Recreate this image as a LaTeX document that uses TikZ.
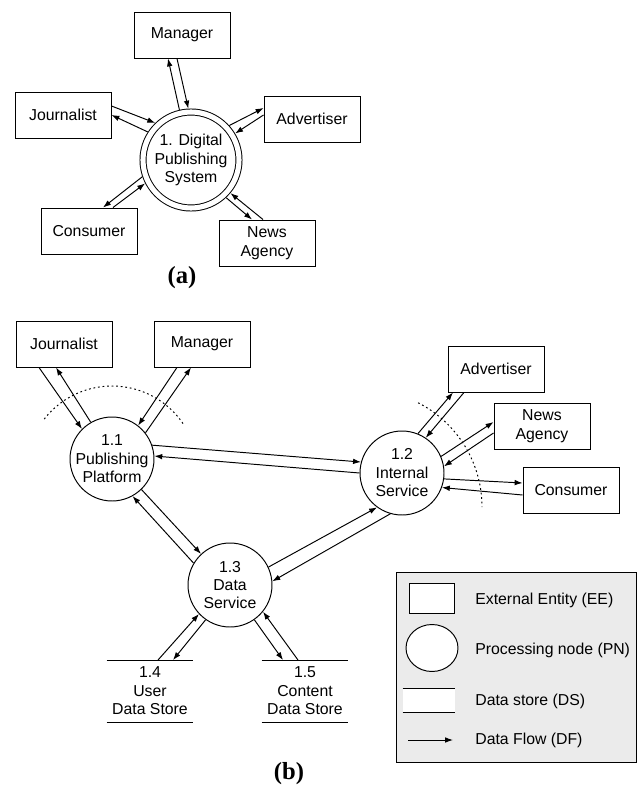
\documentclass[tikz,border=0pt]{standalone}
\usepackage{fontspec}
\setmainfont{Liberation Sans}
\newfontfamily\capfont{Liberation Serif}
\usetikzlibrary{arrows.meta,shapes.geometric}

\tikzset{
  ent/.style={draw, minimum width=1.92cm, minimum height=0.92cm, inner sep=1pt, align=center},
  proc/.style={circle, draw, minimum size=1.68cm, inner sep=-3pt, align=center},
  sysproc/.style={circle, draw, double, double distance=2.9pt, minimum size=1.92cm,
    inner sep=0pt, outer sep=2pt, align=center},
  store/.style={minimum width=1.72cm, minimum height=1.22cm, inner sep=1pt, align=center,
    append after command={(\tikzlastnode.north west) edge (\tikzlastnode.north east)
      (\tikzlastnode.south west) edge (\tikzlastnode.south east)}},
  flow/.style={-{Latex[length=4.5pt,width=3.2pt]}},
  bound/.style={dash pattern=on 1pt off 1.6pt},
  sublabel/.style={font=\capfont\bfseries\fontsize{14}{16}\selectfont},
}

\begin{document}
\begin{tikzpicture}[x=0.02cm, y=0.02cm, line width=0.55pt,
    every node/.append style={font=\fontsize{9}{10.5}\selectfont}]
    \useasboundingbox (0,0) rectangle (638,-787);

    % (a) context diagram
    \node[ent] (mgrA) at (182,-35) {Manager};
    \node[ent] (jourA) at (63,-115) {Journalist};
    \node[ent] (advA) at (312,-119) {Advertiser};
    \node[ent] (consA) at (89,-231) {Consumer};
    \node[ent] (newsA) at (267,-243) {News\\Agency};
    \node[sysproc] (dps) at (191,-160) {1. Digital\\Publishing\\System};

    \draw[flow] ([shift={(0,9)}]jourA.east) -- (dps.134);
    \draw[flow] (dps.147) -- (jourA.east);
    \draw[flow] (dps.103) -- ([shift={(-14,0)}]mgrA.south);
    \draw[flow] ([shift={(-5,0)}]mgrA.south) -- (dps.93);
    \draw[flow] (dps.42) -- ([shift={(0,11)}]advA.west);
    \draw[flow] ([shift={(0,4)}]advA.west) -- (dps.31);
    \draw[flow] (dps.-47) -- ([shift={(-15,0)}]newsA.north);
    \draw[flow] ([shift={(-4,0)}]newsA.north) -- (dps.-40);
    \draw[flow] (dps.199) -- ([shift={(14,0)}]consA.north);
    \draw[flow] ([shift={(24,0)}]consA.north) -- (dps.207);

    \node[sublabel] (capA) at (182,-278) {(a)};

    % (b) level 1 diagram
    \node[ent] (jourB) at (64,-344) {Journalist};
    \node[ent] (mgrB) at (202,-344) {Manager};
    \node[ent] (advB) at (496,-369) {Advertiser};
    \node[ent] (newsB) at (542,-426) {News\\Agency};
    \node[ent] (consB) at (571,-490) {Consumer};
    \node[proc] (pubpf) at (112,-459) {1.1\\Publishing\\Platform};
    \node[proc] (intsrv) at (402,-473) {1.2\\Internal\\Service};
    \node[proc] (datasrv) at (230,-585) {1.3\\Data\\Service};
    \node[store] (userds) at (150,-691) {1.4\\User\\Data Store};
    \node[store] (contds) at (305,-691) {1.5\\Content\\Data Store};

    \draw[flow] ([shift={(-25,0)}]jourB.south) -- (pubpf.135);
    \draw[flow] (pubpf.120) -- ([shift={(-8,0)}]jourB.south);
    \draw[flow] ([shift={(-25,0)}]mgrB.south) -- (pubpf.52);
    \draw[flow] (pubpf.38) -- ([shift={(-11,0)}]mgrB.south);
    \draw[flow] (pubpf.19) -- (intsrv.165);
    \draw[flow] (intsrv.180) -- (pubpf.4);
    \draw[flow] (pubpf.-46) -- (datasrv.133);
    \draw[flow] (datasrv.149) -- (pubpf.-61);
    \draw[flow] (datasrv.25) -- (intsrv.-126);
    \draw[flow] (intsrv.-106) -- (datasrv.5);
    \draw[flow] ([shift={(8,0)}]userds.north) -- (datasrv.223);
    \draw[flow] (datasrv.235) -- ([shift={(23,0)}]userds.north);
    \draw[flow] (datasrv.-55) -- ([shift={(-22,0)}]contds.north);
    \draw[flow] ([shift={(-7,0)}]contds.north) -- (datasrv.-39);
    \draw[flow] (intsrv.68) -- ([shift={(-43,0)}]advB.south);
    \draw[flow] ([shift={(-32,0)}]advB.south) -- (intsrv.56);
    \draw[flow] (intsrv.23) -- ([shift={(0,4)}]newsB.west);
    \draw[flow] ([shift={(0,-7)}]newsB.west) -- (intsrv.9);
    \draw[flow] (intsrv.-8) -- ([shift={(0,7)}]consB.west);
    \draw[flow] ([shift={(0,-5)}]consB.west) -- (intsrv.-20);

    % boundaries
    \draw[bound] ([shift={(0,-13)}]pubpf.center) ++(142:86) arc[start angle=142, end angle=33, radius=86];
    \draw[bound] ([shift={(-37,-34)}]intsrv.center) ++(63:117) arc[start angle=63, end angle=0, radius=117];

    % legend
    \node[draw, fill=black!8, minimum width=4.8cm, minimum height=3.8cm, anchor=north west] (legend) at (396,-572) {};
    \node[draw, fill=white, minimum width=0.9cm, minimum height=0.6cm] (keyee) at (432,-598) {};
    \node[draw, fill=white, ellipse, minimum width=1.04cm, minimum height=0.94cm] (keypn) at (432,-648) {};
    \node[store, fill=white, minimum width=1.04cm, minimum height=0.46cm] (keyds) at (429,-700) {};
    \coordinate (keydfa) at (408,-740);
    \coordinate (keydfb) at (453,-740);
    \draw[flow] (keydfa) -- (keydfb);
    \node[anchor=west] (txtee) at (469,-600) {External Entity (EE)};
    \node[anchor=west] (txtpn) at (469,-650) {Processing node (PN)};
    \node[anchor=west] (txtds) at (469,-701) {Data store (DS)};
    \node[anchor=west] (txtdf) at (469,-740) {Data Flow (DF)};

    \node[sublabel] (capB) at (289,-774) {(b)};
\end{tikzpicture}
\end{document}
